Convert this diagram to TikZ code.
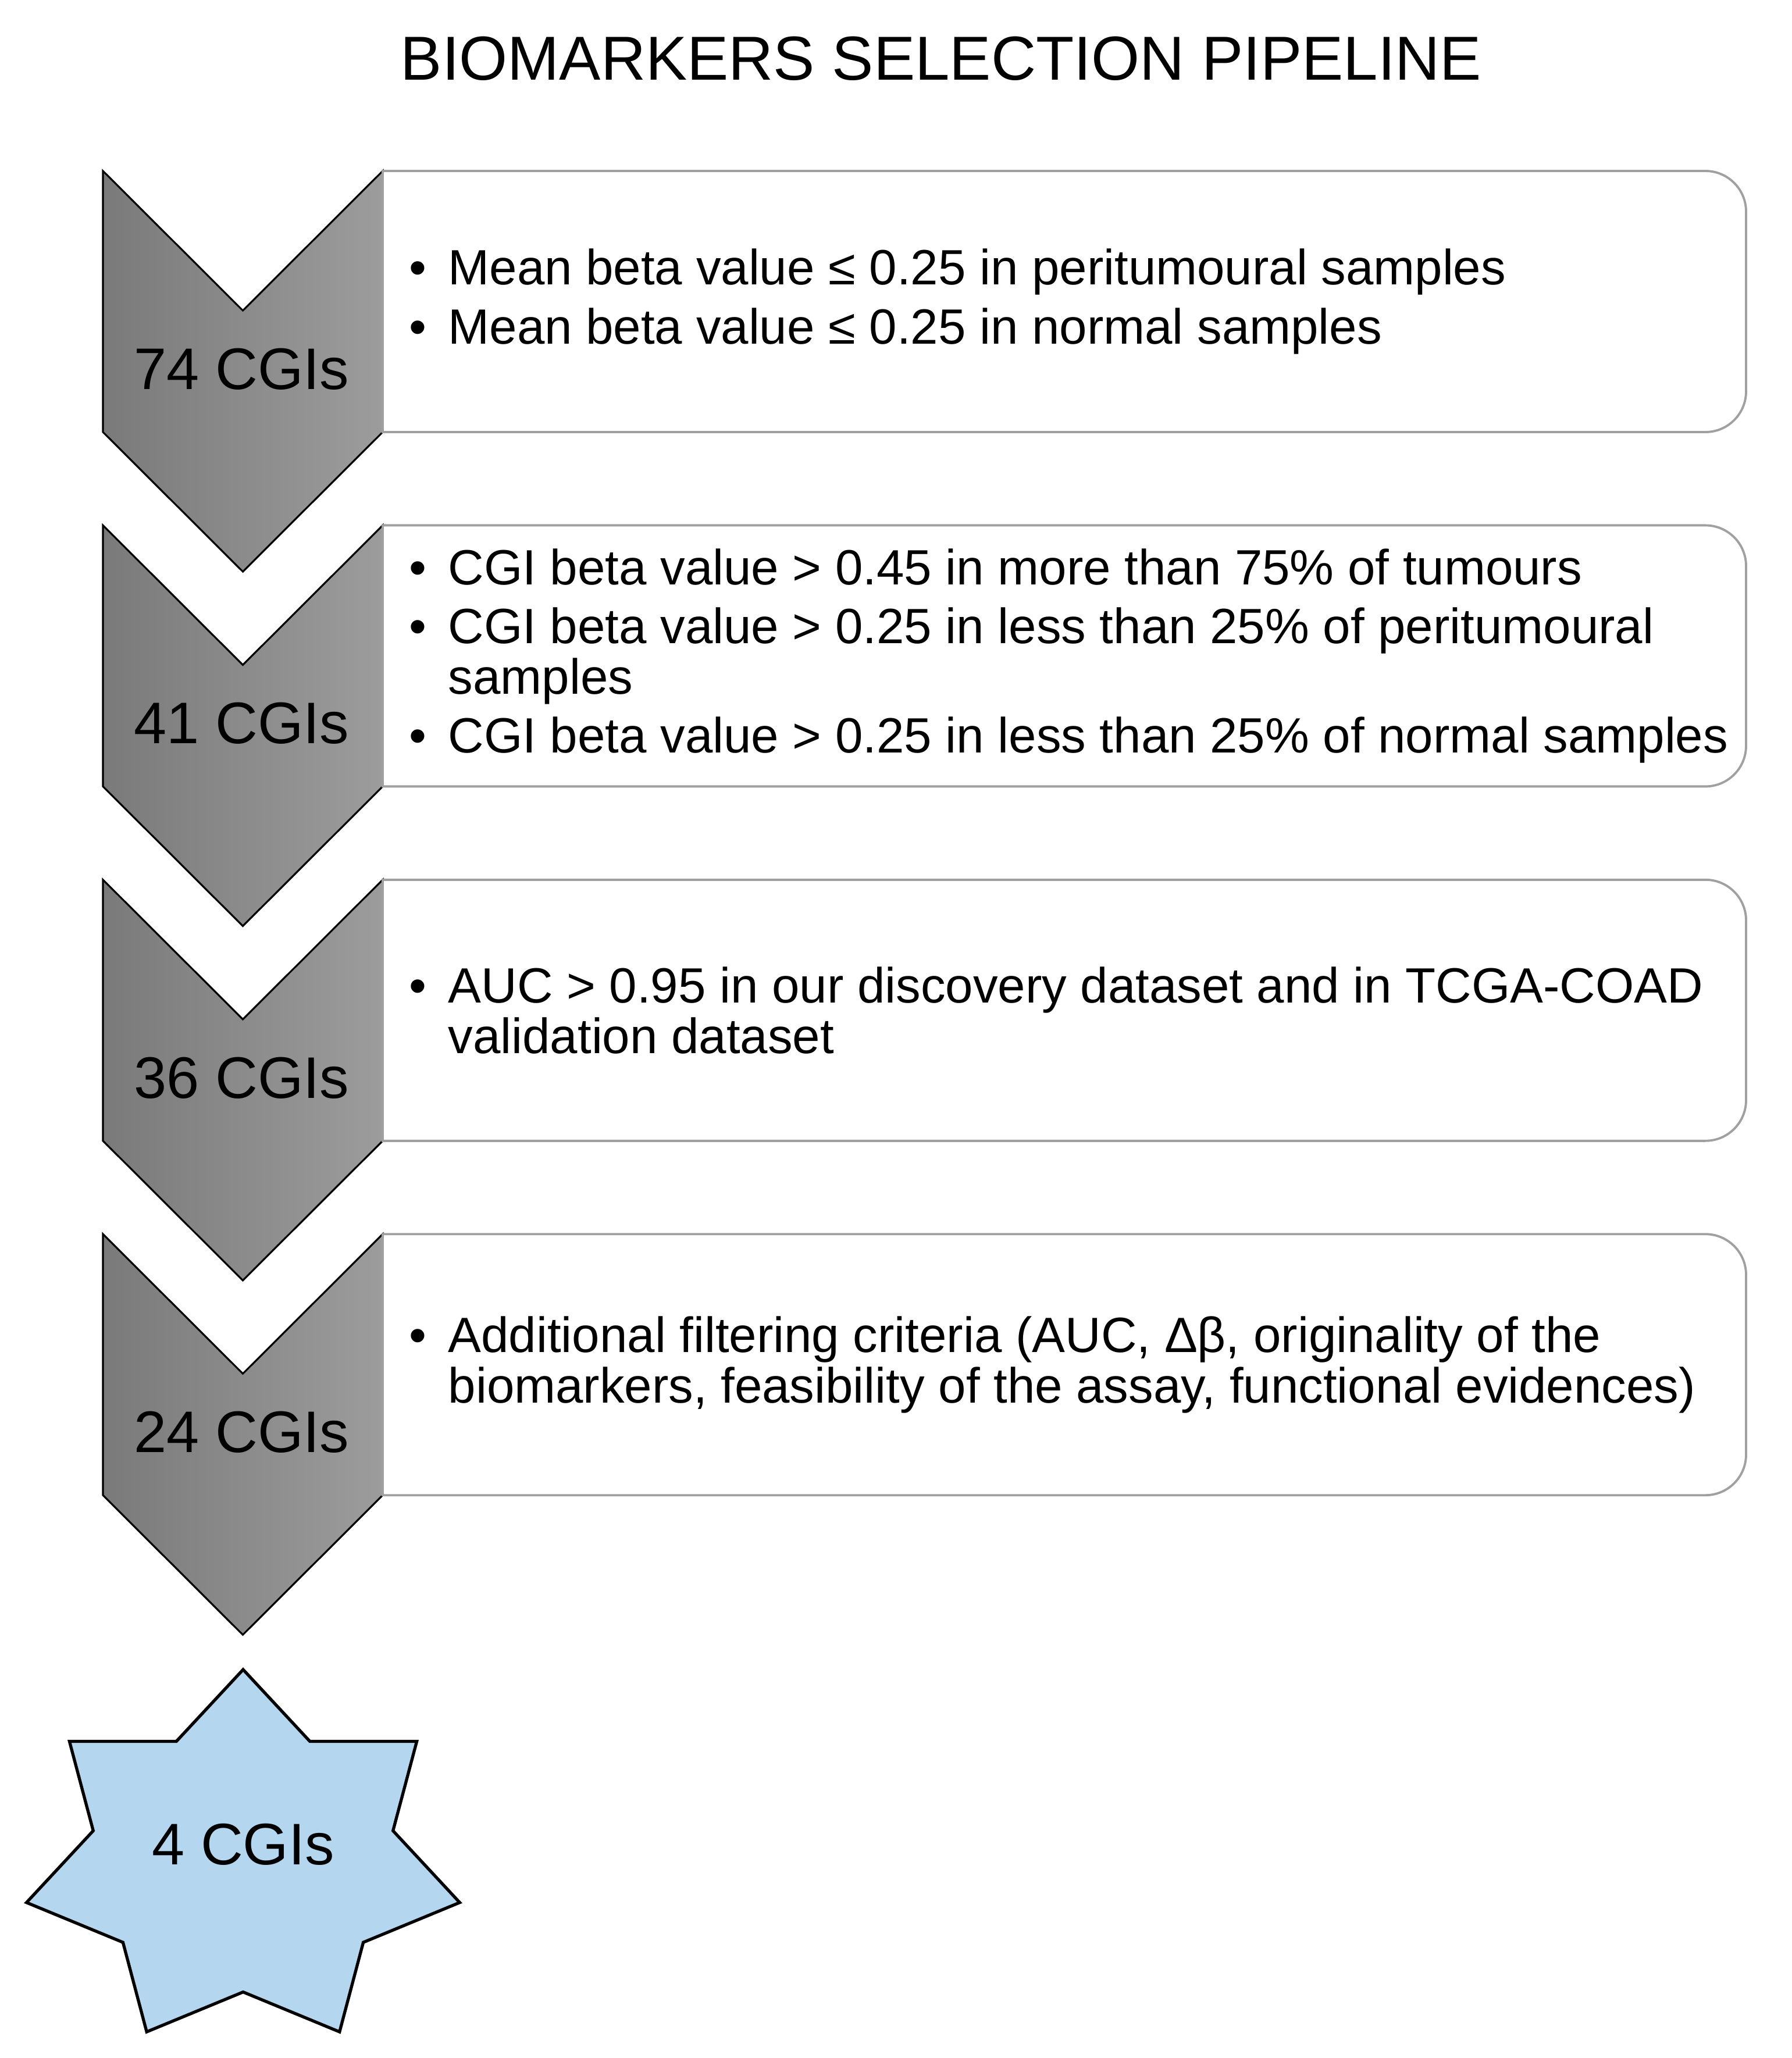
\documentclass[tikz,border=0pt]{standalone}
\usepackage{fontspec}
\setmainfont{Liberation Sans}
\usepackage{tikz}
\usetikzlibrary{positioning}
\definecolor{chevdark}{HTML}{7A7A7A}
\definecolor{chevlight}{HTML}{9C9C9C}
\definecolor{boxgray}{HTML}{A0A0A0}
\definecolor{starblue}{HTML}{B4D7EF}
\newcommand{\bul}{\makebox[0.67cm][l]{\textbullet}}
\newcommand{\hang}{\hspace*{0.67cm}}

\begin{document}
\begin{tikzpicture}[
  chevron/.style={draw=black,line width=0.9pt,left color=chevdark,right color=chevlight},
  critbox/.style={draw=boxgray,line width=1.1pt,fill=white},
  crit/.style={anchor=west,align=left,inner sep=0pt,font=\fontsize{24.25}{24.8}\selectfont},
  count/.style={anchor=base,inner sep=0pt,font=\fontsize{28.7}{34}\selectfont},
  finalstar/.style={draw=black,line width=1.5pt,fill=starblue}
]
  \useasboundingbox (0,0) rectangle (30.81,-35.39);

  \node at(16.18,-1.38)[anchor=base,font=\fontsize{30.4}{36}\selectfont](title){BIOMARKERS SELECTION PIPELINE};

  % chevrons
  \draw[chevron] (1.77,-2.94) -- (4.175,-5.34) -- (6.58,-2.94) -- (6.58,-7.43) -- (4.175,-9.83) -- (1.77,-7.43) -- cycle;
  \draw[chevron] (1.77,-9.034) -- (4.175,-11.434) -- (6.58,-9.034) -- (6.58,-13.524) -- (4.175,-15.924) -- (1.77,-13.524) -- cycle;
  \draw[chevron] (1.77,-15.128) -- (4.175,-17.528) -- (6.58,-15.128) -- (6.58,-19.618) -- (4.175,-22.018) -- (1.77,-19.618) -- cycle;
  \draw[chevron] (1.77,-21.222) -- (4.175,-23.622) -- (6.58,-21.222) -- (6.58,-25.712) -- (4.175,-28.112) -- (1.77,-25.712) -- cycle;

  % criteria boxes
  \draw[critbox] (6.58,-2.94) -- (29.32,-2.94) arc[start angle=90,end angle=0,radius=0.7] -- (30.02,-6.73) arc[start angle=0,end angle=-90,radius=0.7] -- (6.58,-7.43) -- cycle;
  \draw[critbox] (6.58,-9.034) -- (29.32,-9.034) arc[start angle=90,end angle=0,radius=0.7] -- (30.02,-12.824) arc[start angle=0,end angle=-90,radius=0.7] -- (6.58,-13.524) -- cycle;
  \draw[critbox] (6.58,-15.128) -- (29.32,-15.128) arc[start angle=90,end angle=0,radius=0.7] -- (30.02,-18.918) arc[start angle=0,end angle=-90,radius=0.7] -- (6.58,-19.618) -- cycle;
  \draw[critbox] (6.58,-21.222) -- (29.32,-21.222) arc[start angle=90,end angle=0,radius=0.7] -- (30.02,-25.012) arc[start angle=0,end angle=-90,radius=0.7] -- (6.58,-25.712) -- cycle;

  \node at(4.155,-6.69)[count](cgi74){74 CGIs};
  \node at(4.155,-12.78)[count](cgi41){41 CGIs};
  \node at(4.155,-18.88)[count](cgi36){36 CGIs};
  \node at(4.155,-24.97)[count](cgi24){24 CGIs};

  \node at(7.03,-5.185)[crit](crit74){\bul Mean beta value ≤ 0.25 in peritumoural samples\\[4pt]
    \bul Mean beta value ≤ 0.25 in normal samples};
  \node at(7.03,-11.279)[crit](crit41){\bul CGI beta value > 0.45 in more than 75\% of tumours\\[4pt]
    \bul CGI beta value > 0.25 in less than 25\% of peritumoural\\
    \hang samples\\[4pt]
    \bul CGI beta value > 0.25 in less than 25\% of normal samples};
  \node at(7.03,-17.373)[crit](crit36){\bul AUC > 0.95 in our discovery dataset and in TCGA-COAD\\
    \hang validation dataset};
  \node at(7.03,-23.467)[crit](crit24){\bul Additional filtering criteria (AUC, Δβ, originality of the\\
    \hang biomarkers, feasibility of the assay, functional evidences)};

  % final star
  \draw[finalstar] (4.18,-28.71) -- (3.033,-29.944) -- (1.194,-29.944) -- (1.603,-31.482) -- (0.456,-32.716) -- (2.114,-33.401) -- (2.522,-34.94) -- (4.18,-34.255) -- (5.838,-34.94) -- (6.246,-33.401) -- (7.904,-32.716) -- (6.757,-31.482) -- (7.166,-29.944) -- (5.327,-29.944) -- cycle;
  \node at(4.18,-32.06)[count](cgi4){4 CGIs};
\end{tikzpicture}
\end{document}
